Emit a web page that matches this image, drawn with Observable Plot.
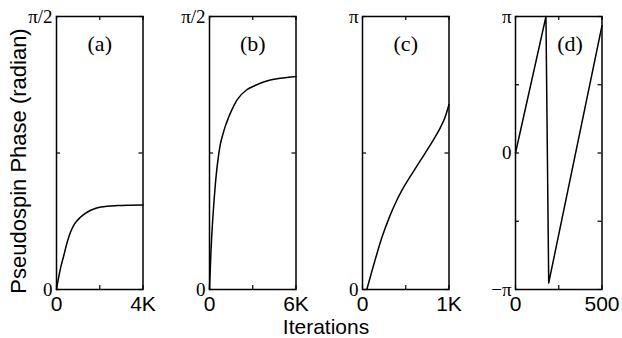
<!DOCTYPE html>
<html><head><meta charset="utf-8">
<script src="https://cdn.jsdelivr.net/npm/d3@7"></script>
<script src="https://cdn.jsdelivr.net/npm/@observablehq/plot@0.6"></script>
<style>
html,body{margin:0;padding:0;background:#fff;}
#chart{position:relative;width:622px;height:338px;overflow:hidden;background:#fff;}
#chart svg{position:absolute;top:0;overflow:visible;}
.lbl{position:absolute;font-family:"Liberation Sans",Arial,sans-serif;font-size:21px;color:#000;white-space:nowrap;line-height:1;transform:translate(-50%,-50%);}
.ylab{transform:translate(-50%,-50%) rotate(-90deg);font-size:22px;}
</style></head><body>
<div id="chart">
  <div class="lbl ylab" id="ylab" style="left:19px;top:161px;"></div>
  <div class="lbl" id="xlab" style="left:326px;top:326px;"></div>
</div>
<script>
const PI = Math.PI;
const yAxisTitle = "Pseudospin Phase (radian)";
const xAxisTitle = "Iterations";
const panelLabels = ["(a)", "(b)", "(c)", "(d)"];

// (a) iterations vs phase (radian)
const aIter  = [0, 100, 200, 340, 500, 651, 850, 1116, 1350, 1581, 2047, 2823, 3400, 4000];
const aPhase = [0, 0.07, 0.13, 0.197, 0.275, 0.331, 0.38, 0.417, 0.44, 0.456, 0.475, 0.483, 0.485, 0.486];
// (b)
const bIter  = [0, 50, 100, 150, 200, 250, 300, 400, 500, 600, 750, 900, 1100, 1300, 1500, 1900, 2600, 3200, 3800, 4900, 6000];
const bPhase = [0, 0.11, 0.215, 0.30, 0.37, 0.435, 0.495, 0.60, 0.685, 0.755, 0.835, 0.885, 0.94, 0.985, 1.025, 1.09, 1.15, 1.175, 1.195, 1.215, 1.226];
// (c)
const cIter  = [50, 140, 225, 310, 398, 490, 590, 680, 757, 830, 899, 950, 1000];
const cPhase = [0, 0.32, 0.60, 0.83, 1.03, 1.20, 1.36, 1.50, 1.62, 1.74, 1.86, 1.97, 2.13];
// (d)
const dIter  = [0, 176, 192, 500];
const dPhase = [0, 3.14, -2.99, 2.93];

// tick values and labels
const xTickVals = [[0, 2000, 4000], [0, 3000, 6000], [0, 500, 1000], [0, 250, 500]];
const xLabelVals = [[0, 4000], [0, 6000], [0, 1000], [0, 500]];
const xTickLabels = [["0", "4K"], ["0", "6K"], ["0", "1K"], ["0", "500"]];
const yTickVals = [[0, PI/4, PI/2], [0, PI/4, PI/2], [0, PI/2, PI], [-PI, -PI/2, 0, PI/2, PI]];
const yLabelVals = [[0, PI/2], [0, PI/2], [0, PI], [-PI, 0, PI]];
const yTickLabels = [["0", "π/2"], ["0", "π/2"], ["0", "π"], ["−π", "0", "π"]];
const xDomains = [[0, 4000], [0, 6000], [0, 1000], [0, 500]];
const yDomains = [[0, PI/2], [0, PI/2], [0, PI], [-PI, PI]];
const labelPos = [[2000, 1.415], [3000, 1.415], [500, 2.83], [315, 2.52]];
const curves = ["monotone-x", "monotone-x", "monotone-x", "linear"];

const iters = [aIter, bIter, cIter, dIter];
const phases = [aPhase, bPhase, cPhase, dPhase];

const ML = 50, MR = 16.5, W = 153, H = 338, MT = 16, MB = 49;
const FW = W - ML - MR, FH = H - MT - MB, TL = 4;
const lefts = [6, 159, 312, 465];
const serif = "'Liberation Serif','Times New Roman',serif";
const sans = "'Liberation Sans',Arial,sans-serif";

const chart = document.getElementById("chart");
document.getElementById("ylab").textContent = yAxisTitle;
document.getElementById("xlab").textContent = xAxisTitle;

for (let k = 0; k < 4; k++) {
  const data = iters[k].map((x, i) => ({x, y: phases[k][i]}));
  const xl = new Map(xLabelVals[k].map((v, i) => [v, xTickLabels[k][i]]));
  const yl = new Map(yLabelVals[k].map((v, i) => [v, yTickLabels[k][i]]));
  const svg = Plot.plot({
    width: W, height: H,
    marginLeft: ML, marginRight: MR, marginTop: MT, marginBottom: MB,
    x: {domain: xDomains[k], axis: null},
    y: {domain: yDomains[k], axis: null},
    style: {background: "transparent", overflow: "visible"},
    marks: [
      // inward ticks on all four sides
      Plot.ruleX(xTickVals[k], {x: d => d, insetTop: FH - TL, stroke: "#000", strokeWidth: 1.2}),
      Plot.ruleX(xTickVals[k], {x: d => d, insetBottom: FH - TL, stroke: "#000", strokeWidth: 1.2}),
      Plot.ruleY(yTickVals[k], {y: d => d, insetRight: FW - TL, stroke: "#000", strokeWidth: 1.2}),
      Plot.ruleY(yTickVals[k], {y: d => d, insetLeft: FW - TL, stroke: "#000", strokeWidth: 1.2}),
      // tick labels
      Plot.text(xLabelVals[k], {x: d => d, frameAnchor: "bottom", lineAnchor: "top", dy: 7, text: d => xl.get(d), fontFamily: sans, fontSize: 21, fill: "#000"}),
      Plot.text(yLabelVals[k], {y: d => d, frameAnchor: "left", textAnchor: "end", lineAnchor: "middle", dx: -4, text: d => yl.get(d), fontFamily: serif, fontSize: 19, fill: "#000"}),
      Plot.line(data, {x: "x", y: "y", curve: curves[k], stroke: "#000", strokeWidth: 1.5}),
      Plot.frame({stroke: "#000", strokeWidth: 1.5}),
      Plot.text([panelLabels[k]], {x: labelPos[k][0], y: labelPos[k][1], fontFamily: serif, fontSize: 22, fill: "#000"})
    ]
  });
  svg.style.left = lefts[k] + "px";
  chart.appendChild(svg);
}
</script>
</body></html>
